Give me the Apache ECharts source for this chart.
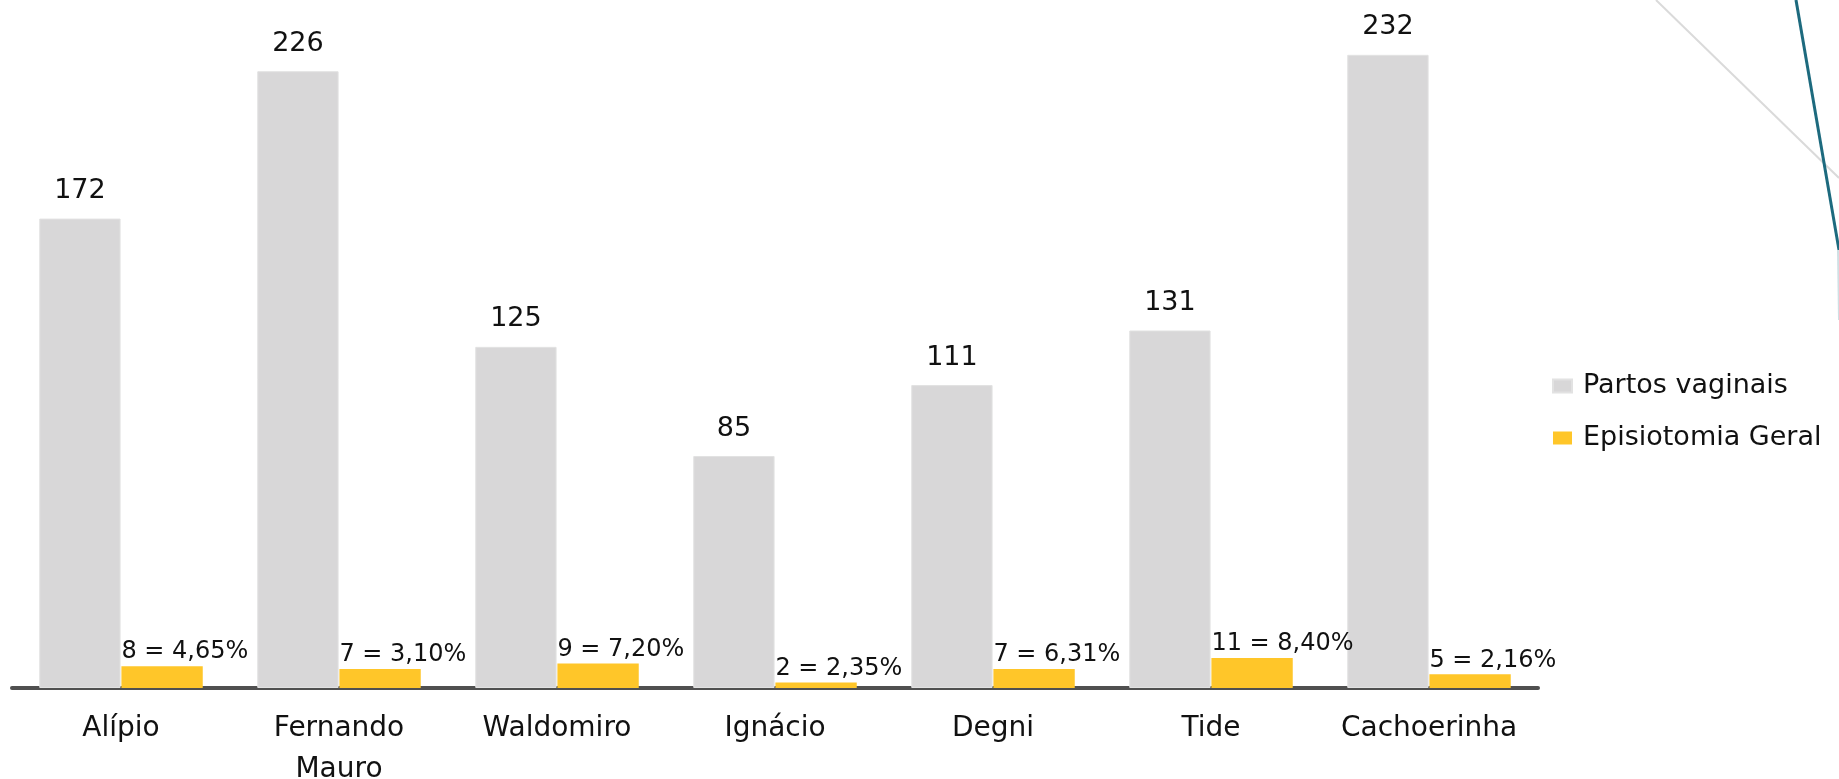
<!DOCTYPE html>
<html>
<head>
<meta charset="utf-8">
<script src="https://cdn.jsdelivr.net/npm/echarts@6/dist/echarts.min.js"></script>
<style>
html,body{margin:0;padding:0;background:#fff;}
#chart{width:1839px;height:779px;}
</style>
</head>
<body>
<div id="chart"></div>
<script>
const categories = ['Alípio', 'Fernando\nMauro', 'Waldomiro', 'Ignácio', 'Degni', 'Tide', 'Cachoerinha'];
const partosVaginais = [172, 226, 125, 85, 111, 131, 232];
const episiotomiaGeral = [8, 7, 9, 2, 7, 11, 5];
const episiotomiaPct = ['4,65%', '3,10%', '7,20%', '2,35%', '6,31%', '8,40%', '2,16%'];
const seriesNames = ['Partos vaginais', 'Episiotomia Geral'];

const FONT = 'DejaVu Sans';
const chart = echarts.init(document.getElementById('chart'));
chart.setOption({
  backgroundColor: '#ffffff',
  animation: false,
  grid: { left: 12, right: 301, top: 33, bottom: 91, containLabel: false, outerBoundsMode: 'none' },
  legend: {
    orient: 'vertical',
    left: 1552,
    top: 372,
    padding: 0,
    itemWidth: 19,
    itemHeight: 13,
    itemGap: 24,
    icon: 'rect',
    data: seriesNames,
    textStyle: { fontFamily: FONT, fontSize: 27, color: '#111', lineHeight: 28, padding: [0, 0, 0, 6] }
  },
  xAxis: {
    type: 'category',
    data: categories,
    axisLine: { show: true, lineStyle: { color: '#505050', width: 4 } },
    axisTick: { show: false },
    axisLabel: { fontFamily: FONT, fontSize: 28, color: '#111', margin: 20, lineHeight: 41, interval: 0 }
  },
  yAxis: {
    type: 'value', min: 0, max: 240, show: false,
    splitLine: { show: false }
  },
  series: [
    {
      name: seriesNames[0],
      type: 'bar',
      data: partosVaginais,
      barCategoryGap: '25%',
      barGap: '1%',
      itemStyle: { color: '#D8D7D8', borderColor: '#E2E2E2', borderWidth: 1 },
      label: { show: true, position: 'top', distance: 14, fontFamily: FONT, fontSize: 27, color: '#111' }
    },
    {
      name: seriesNames[1],
      type: 'bar',
      data: episiotomiaGeral,
      barCategoryGap: '25%',
      barGap: '1%',
      itemStyle: { color: '#FFC629' },
      label: {
        show: true,
        position: [0, -2],
        align: 'left',
        verticalAlign: 'bottom',
        fontFamily: FONT, fontSize: 24, color: '#111',
        formatter: p => p.value + ' = ' + episiotomiaPct[p.dataIndex]
      }
    }
  ],
  graphic: [
    { type: 'line', silent: true, shape: { x1: 1656, y1: 0, x2: 1839, y2: 178 }, style: { stroke: '#DADADA', lineWidth: 2 } },
    { type: 'line', silent: true, shape: { x1: 1796, y1: 0, x2: 1839, y2: 250 }, style: { stroke: '#1D6A7E', lineWidth: 3 } },
    { type: 'line', silent: true, shape: { x1: 1838, y1: 250, x2: 1839, y2: 320 }, style: { stroke: '#CFE0E4', lineWidth: 2 } }
  ]
});
</script>
</body>
</html>
